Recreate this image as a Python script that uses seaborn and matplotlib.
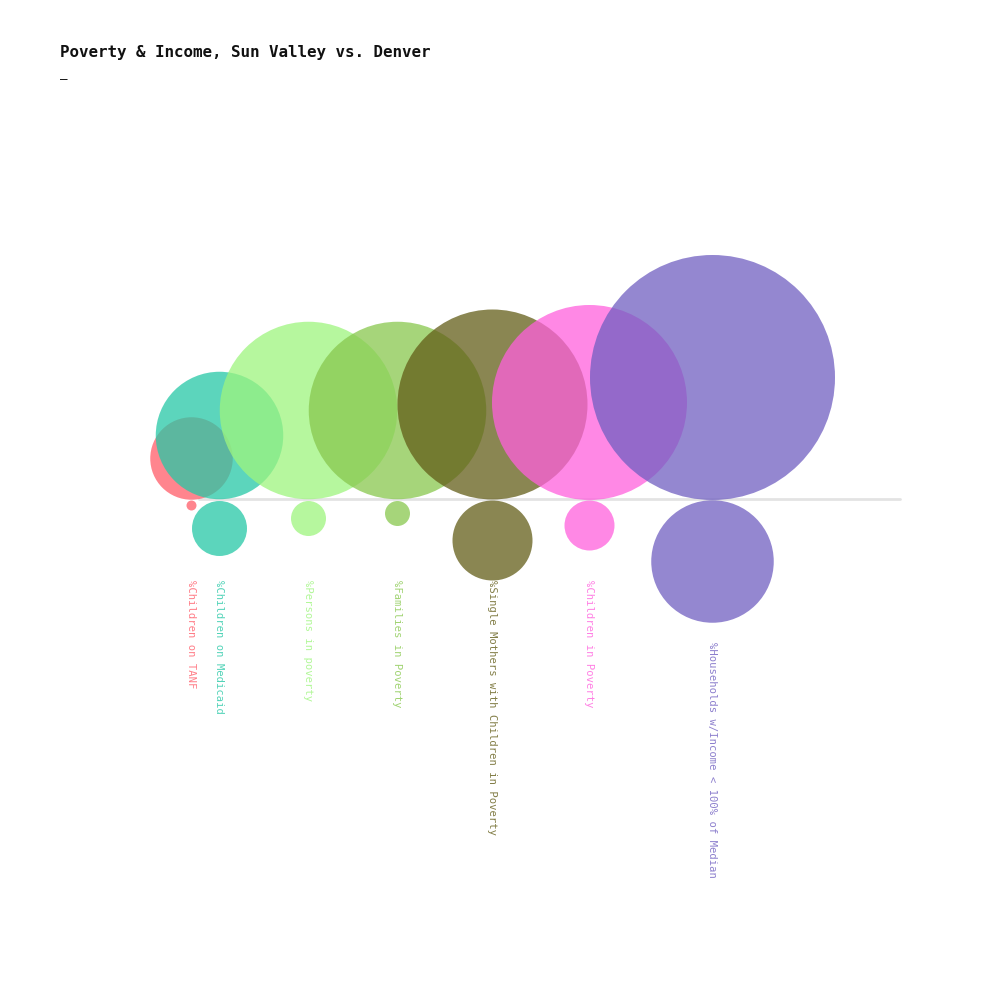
import numpy as np
import pandas as pd
import matplotlib
matplotlib.use("Agg")
import matplotlib.pyplot as plt
import seaborn as sns

# % values, Sun Valley (above the line) vs Denver (below)
labels = ["%Children on TANF", "%Children on Medicaid", "%Persons in poverty",
          "%Families in Poverty", "%Single Mothers with Children in Poverty",
          "%Children in Poverty", "%Households w/Income < 100% of Median"]
sun_valley = [33, 51, 71, 71, 76, 78, 98]
denver = [4, 22, 14, 10, 32, 20, 49]
colors = ["#ff5c69", "#26c8a6", "#9ef57e", "#88c84e", "#635d18", "#ff60dd", "#705fc1"]

sns.set_style("white")
plt.rcParams['font.family'] = ['DejaVu Sans Mono', 'DejaVu Sans']

fig = plt.figure(figsize=(10, 10), dpi=100)
ax = fig.add_axes([0, 0, 1, 1])
ax.set_xlim(0, 1000)
ax.set_ylim(1000, 0)
ax.axis('off')

px = 2.5          # pixels of diameter per percent
base_y = 499
pt = 72 / 100     # points per pixel

d_top = np.array(sun_valley) * px
d_bot = np.array(denver) * px

# horizontal layout: each circle steps right by its own radius
xs = [191.0]
for i in range(1, len(labels)):
    step = d_top[i] / 2 if i > 1 else (d_top[1] - d_top[0]) / 2 * 1.25
    xs.append(xs[-1] + step)

ax.plot([xs[0] + 8, 900], [base_y, base_y], color="#e3e3e3", lw=2, zorder=0)

for i in range(len(labels)):
    sns.scatterplot(x=[xs[i]], y=[base_y - d_top[i] / 2], s=(d_top[i] * pt) ** 2,
                    color=colors[i], alpha=0.75, linewidth=0, ax=ax, zorder=2)
    sns.scatterplot(x=[xs[i]], y=[base_y + 1 + d_bot[i] / 2], s=(d_bot[i] * pt) ** 2,
                    color=colors[i], alpha=0.75, linewidth=0, ax=ax, zorder=2)
    bottom = base_y + d_bot[i]
    lab_y = bottom + 20 if bottom > 600 else 580
    ax.text(xs[i], lab_y, labels[i], rotation=270, ha='center', va='top',
            fontsize=7.6, color=colors[i], alpha=0.8)

ax.text(60, 53, "Poverty & Income, Sun Valley vs. Denver", fontsize=11.4,
        fontweight='bold', color="#111111", va='center', ha='left')
ax.text(60, 80, "–", fontsize=9, color="#111111", va='center', ha='left')

if ax.get_legend():
    ax.get_legend().remove()

fig.savefig("out.png", dpi=100, facecolor="white")
